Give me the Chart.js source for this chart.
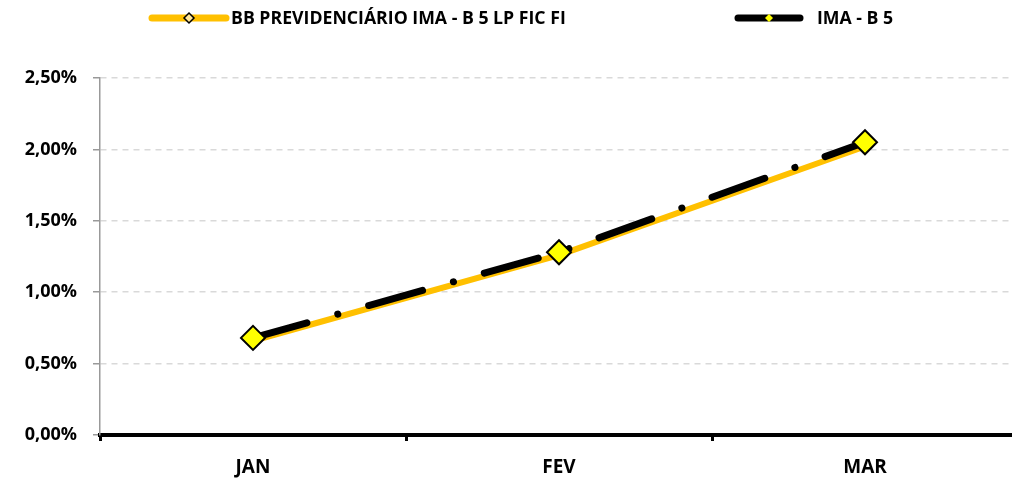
<!DOCTYPE html>
<html lang="pt">
<head>
<meta charset="UTF-8">
<style>
  html, body { margin: 0; padding: 0; overflow: hidden; background: #fff; }
  #wrap { width: 1032px; height: 479px; }
</style>
</head>
<body>
<script src="https://cdn.jsdelivr.net/npm/chart.js@4/dist/chart.umd.min.js"></script>
<div id="wrap"><canvas id="chart" width="1032" height="479"></canvas></div>
<script>
    var months = ['JAN', 'FEV', 'MAR'];
    var bbName = 'BB PREVIDENCIÁRIO IMA - B 5 LP FIC FI';
    var imaName = 'IMA - B 5';
    var bbValues = [0.66, 1.26, 2.02];   // %
    var imaValues = [0.68, 1.28, 2.05];  // %
    var yTicks = [0, 0.5, 1, 1.5, 2, 2.5];

    var FONT = '"Open Sans", sans-serif';

    function pct(v) {
        return v.toFixed(2).replace('.', ',') + '%';
    }

    // legend drawn by hand so it sits where the original puts it
    var legendPlugin = {
        id: 'topLegend',
        afterDraw: function (chart) {
            var ctx = chart.ctx;
            var items = [
                { x1: 152, x2: 226, color: '#FFC000', mark: '#FFE699', size: 5, text: bbName, tx: 231 },
                { x1: 738, x2: 800, color: '#000000', mark: '#FFFF00', size: 4, text: imaName, tx: 817 }
            ];
            var y = 18;
            ctx.save();
            items.forEach(function (it) {
                ctx.strokeStyle = it.color;
                ctx.lineWidth = 7;
                ctx.lineCap = 'round';
                ctx.beginPath();
                ctx.moveTo(it.x1, y);
                ctx.lineTo(it.x2, y);
                ctx.stroke();
                var cx = (it.x1 + it.x2) / 2, s = it.size;
                ctx.beginPath();
                ctx.moveTo(cx, y - s);
                ctx.lineTo(cx + s, y);
                ctx.lineTo(cx, y + s);
                ctx.lineTo(cx - s, y);
                ctx.closePath();
                ctx.fillStyle = it.mark;
                ctx.fill();
                if (it.color !== '#000000') {
                    ctx.lineWidth = 1.5;
                    ctx.strokeStyle = '#000';
                    ctx.stroke();
                }
                ctx.fillStyle = '#000';
                ctx.font = 'bold 17.7px ' + FONT;
                ctx.textBaseline = 'middle';
                ctx.textAlign = 'left';
                ctx.fillText(it.text, it.tx, y + 1);
            });
            ctx.restore();
        }
    };

    new Chart(document.getElementById('chart'), {
        type: 'line',
        data: {
            labels: months,
            datasets: [
                {
                    label: imaName,
                    data: imaValues,
                    borderColor: '#000000',
                    borderWidth: 7,
                    borderCapStyle: 'round',
                    borderDash: [56, 32, 0.1, 32],
                    pointStyle: 'rectRot',
                    pointRadius: 12,
                    pointBackgroundColor: '#FFFF00',
                    pointBorderColor: '#000000',
                    pointBorderWidth: 2,
                    tension: 0,
                    order: 0
                },
                {
                    label: bbName,
                    data: bbValues,
                    borderColor: '#FFC000',
                    borderWidth: 6,
                    pointRadius: 0,
                    tension: 0,
                    order: 1
                }
            ]
        },
        options: {
            responsive: false,
            animation: false,
            layout: { padding: { top: 78, left: 0, right: 10, bottom: 0 } },
            plugins: {
                legend: { display: false },
                tooltip: { enabled: false }
            },
            scales: {
                x: {
                    offset: true,
                    afterFit: function (axis) { axis.height = 44; },
                    grid: {
                        display: true,
                        offset: true,
                        drawOnChartArea: false,
                        drawTicks: true,
                        tickLength: 6,
                        tickWidth: 3,
                        tickColor: '#000'
                    },
                    border: { color: '#000', width: 4 },
                    ticks: {
                        color: '#000',
                        font: { family: FONT, size: 19, weight: 'bold' },
                        padding: 15
                    }
                },
                y: {
                    min: 0,
                    max: 2.5,
                    afterBuildTicks: function (axis) {
                        axis.ticks = yTicks.map(function (v) { return { value: v }; });
                    },
                    afterFit: function (axis) { axis.width = 100; },
                    grid: {
                        color: '#D9D9D9',
                        lineWidth: 1.5,
                        tickColor: '#999',
                        tickLength: 7,
                        drawTicks: true
                    },
                    border: { color: '#999', width: 1.5, dash: [6, 5] },
                    ticks: {
                        color: '#000',
                        font: { family: FONT, size: 18, weight: 'bold' },
                        padding: 16,
                        callback: function (v) { return pct(v); }
                    }
                }
            }
        },
        plugins: [legendPlugin]
    });
</script>
</body>
</html>
